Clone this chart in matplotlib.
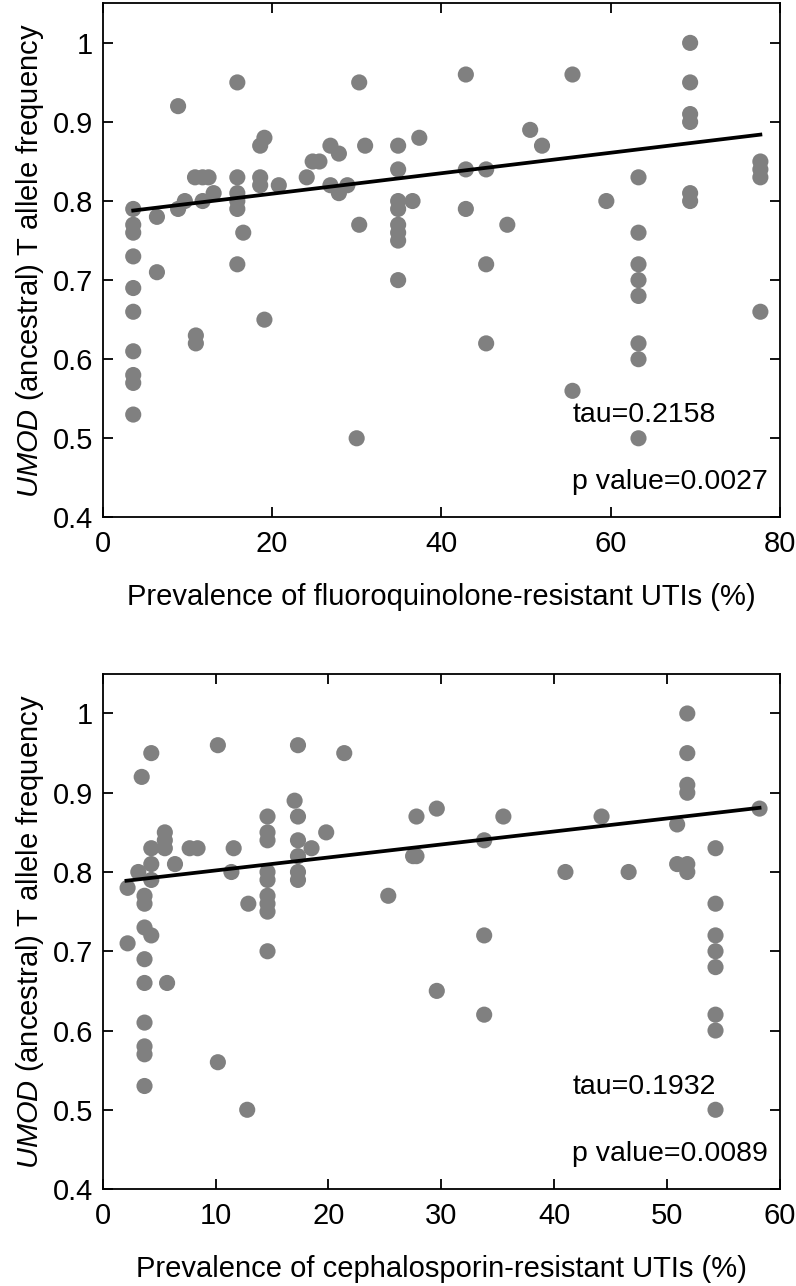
import matplotlib
matplotlib.use("Agg")
import matplotlib.pyplot as plt

plt.rcParams['font.family'] = ['Liberation Sans', 'DejaVu Sans']
plt.rcParams['mathtext.fontset'] = 'custom'
plt.rcParams['mathtext.rm'] = 'Liberation Sans'
plt.rcParams['mathtext.it'] = 'Liberation Sans:italic'

# top panel: fluoroquinolone resistance vs UMOD T allele frequency
fq_x = [3.6, 3.6, 3.6, 3.6, 3.6, 3.6, 3.6, 3.6, 3.6, 3.6,
        6.4, 6.4, 8.9, 8.9, 9.7, 10.9, 11.0, 11.0, 11.8, 11.8, 12.5, 13.1,
        15.9, 15.9, 15.9, 15.9, 15.9, 15.9, 16.6,
        18.6, 18.6, 18.6, 19.1, 19.1, 20.8, 24.1, 24.8, 25.6,
        26.9, 26.9, 27.9, 27.9, 28.9, 30.0, 30.3, 30.3, 31.0,
        34.9, 34.9, 34.9, 34.9, 34.9, 34.9, 34.9, 34.9, 36.6, 37.4,
        42.9, 42.9, 42.9, 45.3, 45.3, 45.3, 47.8, 50.5, 51.9, 55.5, 55.5, 59.5,
        63.3, 63.3, 63.3, 63.3, 63.3, 63.3, 63.3, 63.3,
        69.4, 69.4, 69.4, 69.4, 69.4, 69.4,
        77.7, 77.7, 77.7, 77.7]
fq_y = [0.79, 0.77, 0.76, 0.73, 0.69, 0.66, 0.61, 0.58, 0.57, 0.53,
        0.78, 0.71, 0.92, 0.79, 0.80, 0.83, 0.63, 0.62, 0.83, 0.80, 0.83, 0.81,
        0.95, 0.83, 0.81, 0.80, 0.79, 0.72, 0.76,
        0.87, 0.83, 0.82, 0.88, 0.65, 0.82, 0.83, 0.85, 0.85,
        0.87, 0.82, 0.86, 0.81, 0.82, 0.50, 0.95, 0.77, 0.87,
        0.87, 0.84, 0.80, 0.79, 0.77, 0.76, 0.75, 0.70, 0.80, 0.88,
        0.96, 0.84, 0.79, 0.84, 0.72, 0.62, 0.77, 0.89, 0.87, 0.96, 0.56, 0.80,
        0.83, 0.76, 0.72, 0.70, 0.68, 0.62, 0.60, 0.50,
        1.00, 0.95, 0.91, 0.90, 0.81, 0.80,
        0.85, 0.84, 0.83, 0.66]
fq_fit_x = [3.6, 77.7]
fq_fit_y = [0.788, 0.884]

# bottom panel: cephalosporin resistance
ce_x = [2.2, 2.2, 3.15, 3.45,
        3.7, 3.7, 3.7, 3.7, 3.7, 3.7, 3.7, 3.7, 3.7,
        4.3, 4.3, 4.3, 4.3, 4.3,
        5.5, 5.5, 5.5, 5.7, 6.4, 7.7, 8.4,
        10.2, 10.2, 11.4, 11.6, 12.8, 12.9,
        14.6, 14.6, 14.6, 14.6, 14.6, 14.6, 14.6, 14.6, 14.6,
        17.0, 17.3, 17.3, 17.3, 17.3, 17.3, 17.3,
        18.5, 19.8, 21.4, 25.3, 27.5, 27.8, 27.8, 29.6, 29.6,
        33.8, 33.8, 33.8, 35.5, 41.0, 44.2, 46.6, 50.9, 50.9,
        51.8, 51.8, 51.8, 51.8, 51.8, 51.8,
        54.3, 54.3, 54.3, 54.3, 54.3, 54.3, 54.3, 54.3,
        58.2]
ce_y = [0.78, 0.71, 0.80, 0.92,
        0.77, 0.76, 0.73, 0.69, 0.66, 0.61, 0.58, 0.57, 0.53,
        0.95, 0.83, 0.81, 0.79, 0.72,
        0.85, 0.84, 0.83, 0.66, 0.81, 0.83, 0.83,
        0.96, 0.56, 0.80, 0.83, 0.50, 0.76,
        0.87, 0.85, 0.84, 0.80, 0.79, 0.77, 0.76, 0.75, 0.70,
        0.89, 0.96, 0.87, 0.84, 0.82, 0.80, 0.79,
        0.83, 0.85, 0.95, 0.77, 0.82, 0.87, 0.82, 0.88, 0.65,
        0.84, 0.72, 0.62, 0.87, 0.80, 0.87, 0.80, 0.86, 0.81,
        1.00, 0.95, 0.91, 0.90, 0.81, 0.80,
        0.83, 0.76, 0.72, 0.70, 0.68, 0.62, 0.60, 0.50,
        0.88]
ce_fit_x = [2.1, 58.2]
ce_fit_y = [0.789, 0.881]

yticks = [0.4, 0.5, 0.6, 0.7, 0.8, 0.9, 1.0]
ytick_labels = ['0.4', '0.5', '0.6', '0.7', '0.8', '0.9', '1']

panels = [
    (fq_x, fq_y, fq_fit_x, fq_fit_y, 80, [0, 20, 40, 60, 80],
     'Prevalence of fluoroquinolone-resistant UTIs (%)', 'tau=0.2158', 'p value=0.0027', 55.5),
    (ce_x, ce_y, ce_fit_x, ce_fit_y, 60, [0, 10, 20, 30, 40, 50, 60],
     'Prevalence of cephalosporin-resistant UTIs (%)', 'tau=0.1932', 'p value=0.0089', 41.6),
]
boxes = [[0.1291, 0.5977, 0.8506, 0.3997], [0.1291, 0.0754, 0.8506, 0.4006]]

fig = plt.figure(figsize=(7.96, 12.86), dpi=100)
for box, (x, y, fx, fy, xmax, xt, xlab, tau, pval, tx) in zip(boxes, panels):
    ax = fig.add_axes(box)
    ax.scatter(x, y, s=135, c='#808080', edgecolors='none', zorder=2)
    ax.plot(fx, fy, color='black', lw=2.7, zorder=3)
    ax.set_xlim(0, xmax)
    ax.set_ylim(0.4, 1.05)
    ax.set_xticks(xt)
    ax.set_yticks(yticks)
    ax.set_yticklabels(ytick_labels)
    ax.tick_params(direction='in', top=True, right=True, length=7, width=1.3,
                   labelsize=21)
    ax.tick_params(axis='x', pad=9)
    ax.tick_params(axis='y', pad=7)
    for s in ax.spines.values():
        s.set_linewidth(1.3)
    ax.set_xlabel(xlab, fontsize=21, labelpad=18)
    ax.set_ylabel(r'$\mathit{UMOD}$ (ancestral) T allele frequency', fontsize=21, labelpad=5)
    ax.text(tx, 0.52, tau, fontsize=20.5)
    ax.text(tx, 0.436, pval, fontsize=20.5)

fig.savefig('out.png', dpi=100)
